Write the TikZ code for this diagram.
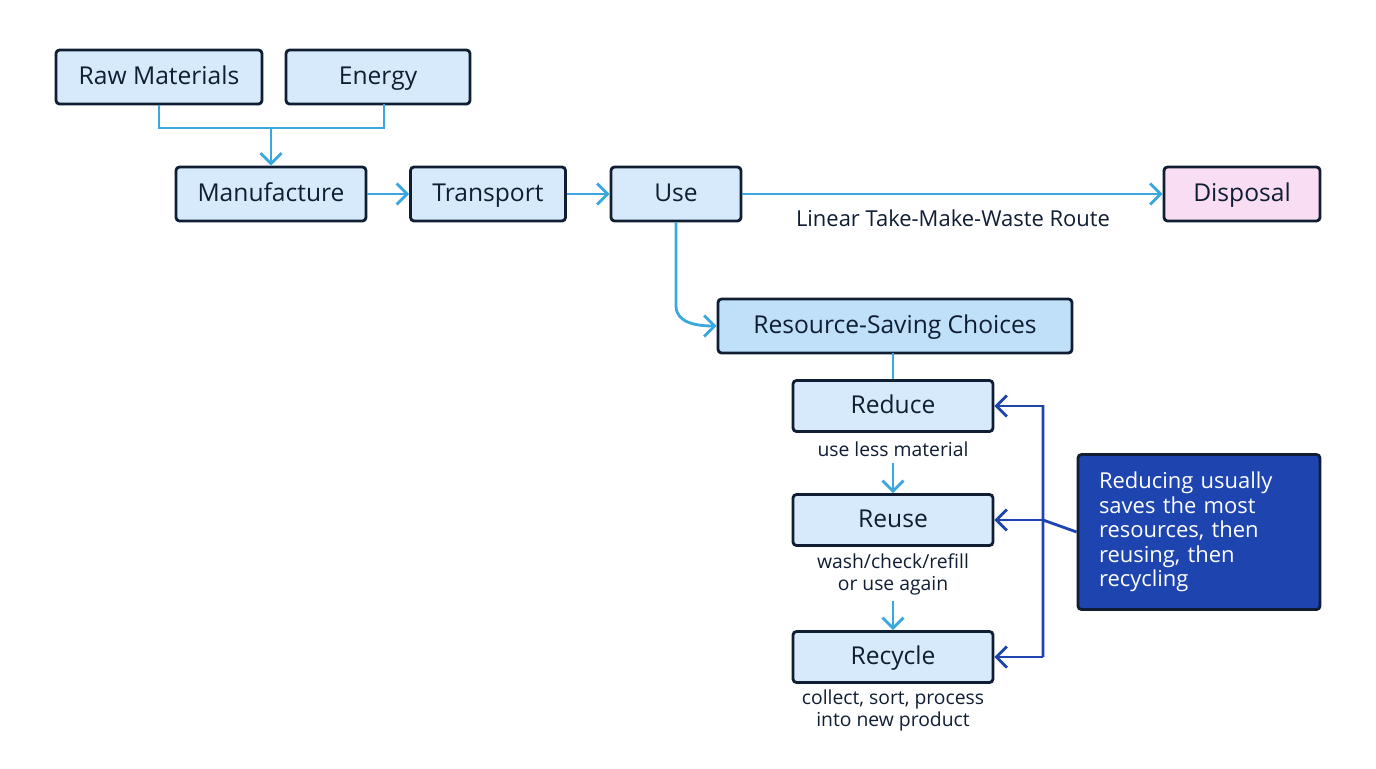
\documentclass[tikz,border=0pt]{standalone}
\usepackage{fontspec}
\setmainfont{Open Sans}
\usetikzlibrary{arrows.meta}
\definecolor{boxfill}{HTML}{D6EAFB}
\definecolor{boxfill2}{HTML}{BFE0F8}
\definecolor{edge}{HTML}{0F1E33}
\definecolor{lblue}{HTML}{3BA7DF}
\definecolor{dblue}{HTML}{1E44B0}
\definecolor{pinkf}{HTML}{F9DDF2}
\begin{document}
\begin{tikzpicture}[x=0.02cm,y=-0.02cm,
 box/.style={draw=edge,line width=1.6pt,rounded corners=2pt,fill=boxfill,minimum height=54*0.02cm,inner sep=0pt,text height=10pt,text depth=1.5pt,font=\fontsize{14}{16}\selectfont,text=edge},
 lbl/.style={font=\fontsize{11}{12.5}\selectfont,text=edge,align=center},
 conn/.style={draw=lblue,line width=1.6pt},
 arr/.style={conn,-{Straight Barb[length=6pt,width=12pt,line width=1.6pt]}},
 darr/.style={draw=dblue,line width=1.6pt,-{Straight Barb[length=6pt,width=12pt,line width=1.6pt]}}]
\useasboundingbox (0,0) rectangle (1376,768);
\node[box,minimum width=206*0.02cm] (raw) at (159,77) {Raw Materials};
\node[box,minimum width=184*0.02cm] (energy) at (378,77) {Energy};
\node[box,minimum width=190*0.02cm] (man) at (271,194) {Manufacture};
\node[box,minimum width=155*0.02cm] (tra) at (488,194) {Transport};
\node[box,minimum width=130*0.02cm] (use) at (676,194) {Use};
\node[box,minimum width=156*0.02cm,fill=pinkf] (dis) at (1242,194) {Disposal};
\node[box,minimum width=354*0.02cm,fill=boxfill2] (rsc) at (895,326) {Resource-Saving Choices};
\node[box,minimum width=200*0.02cm,minimum height=51*0.02cm] (red) at (893,406) {Reduce};
\node[box,minimum width=200*0.02cm,minimum height=51*0.02cm] (reu) at (893,520) {Reuse};
\node[box,minimum width=200*0.02cm,minimum height=51*0.02cm] (rec) at (893,657) {Recycle};
\node[draw=edge,line width=1.6pt,rounded corners=2pt,fill=dblue,minimum width=242*0.02cm,minimum height=155*0.02cm,text=white,align=left,text width=200*0.02cm,font=\fontsize{12.5}{14}\selectfont] (note) at (1199,532) {Reducing usually\\saves the most\\resources, then\\reusing, then\\recycling};
\node[lbl] (l1) at (893,449) {use less material};
\node[lbl] (l2) at (893,574) {wash/check/refill\\or use again};
\node[lbl] (l3) at (893,710) {collect, sort, process\\into new product};
\node[lbl,font=\fontsize{12.5}{14}\selectfont] (lin) at (953,218) {Linear Take-Make-Waste Route};
\coordinate (j) at (271,128);
\draw[conn] (raw.south) -- (159,128) -| (384,104);
\draw[arr] (j) -- (man.north);
\draw[arr] (man) -- (tra);
\draw[arr] (tra) -- (use);
\draw[arr] (use) -- (dis);
\draw[arr] (use.south) -- (676,306) to[out=-90,in=180] (rsc.west);
\draw[conn] (red.north) -- (893,353);
\draw[arr] (l1.south) -- (reu.north);
\draw[arr] (l2.south) -- (rec.north);
\draw[draw=dblue,line width=1.6pt] (note.west) -- (1043,520) (1043,405) -- (1043,657);
\draw[darr] (1043,406) -- (red.east);
\draw[darr] (1043,520) -- (reu.east);
\draw[darr] (1043,657) -- (rec.east);
\end{tikzpicture}
\end{document}
